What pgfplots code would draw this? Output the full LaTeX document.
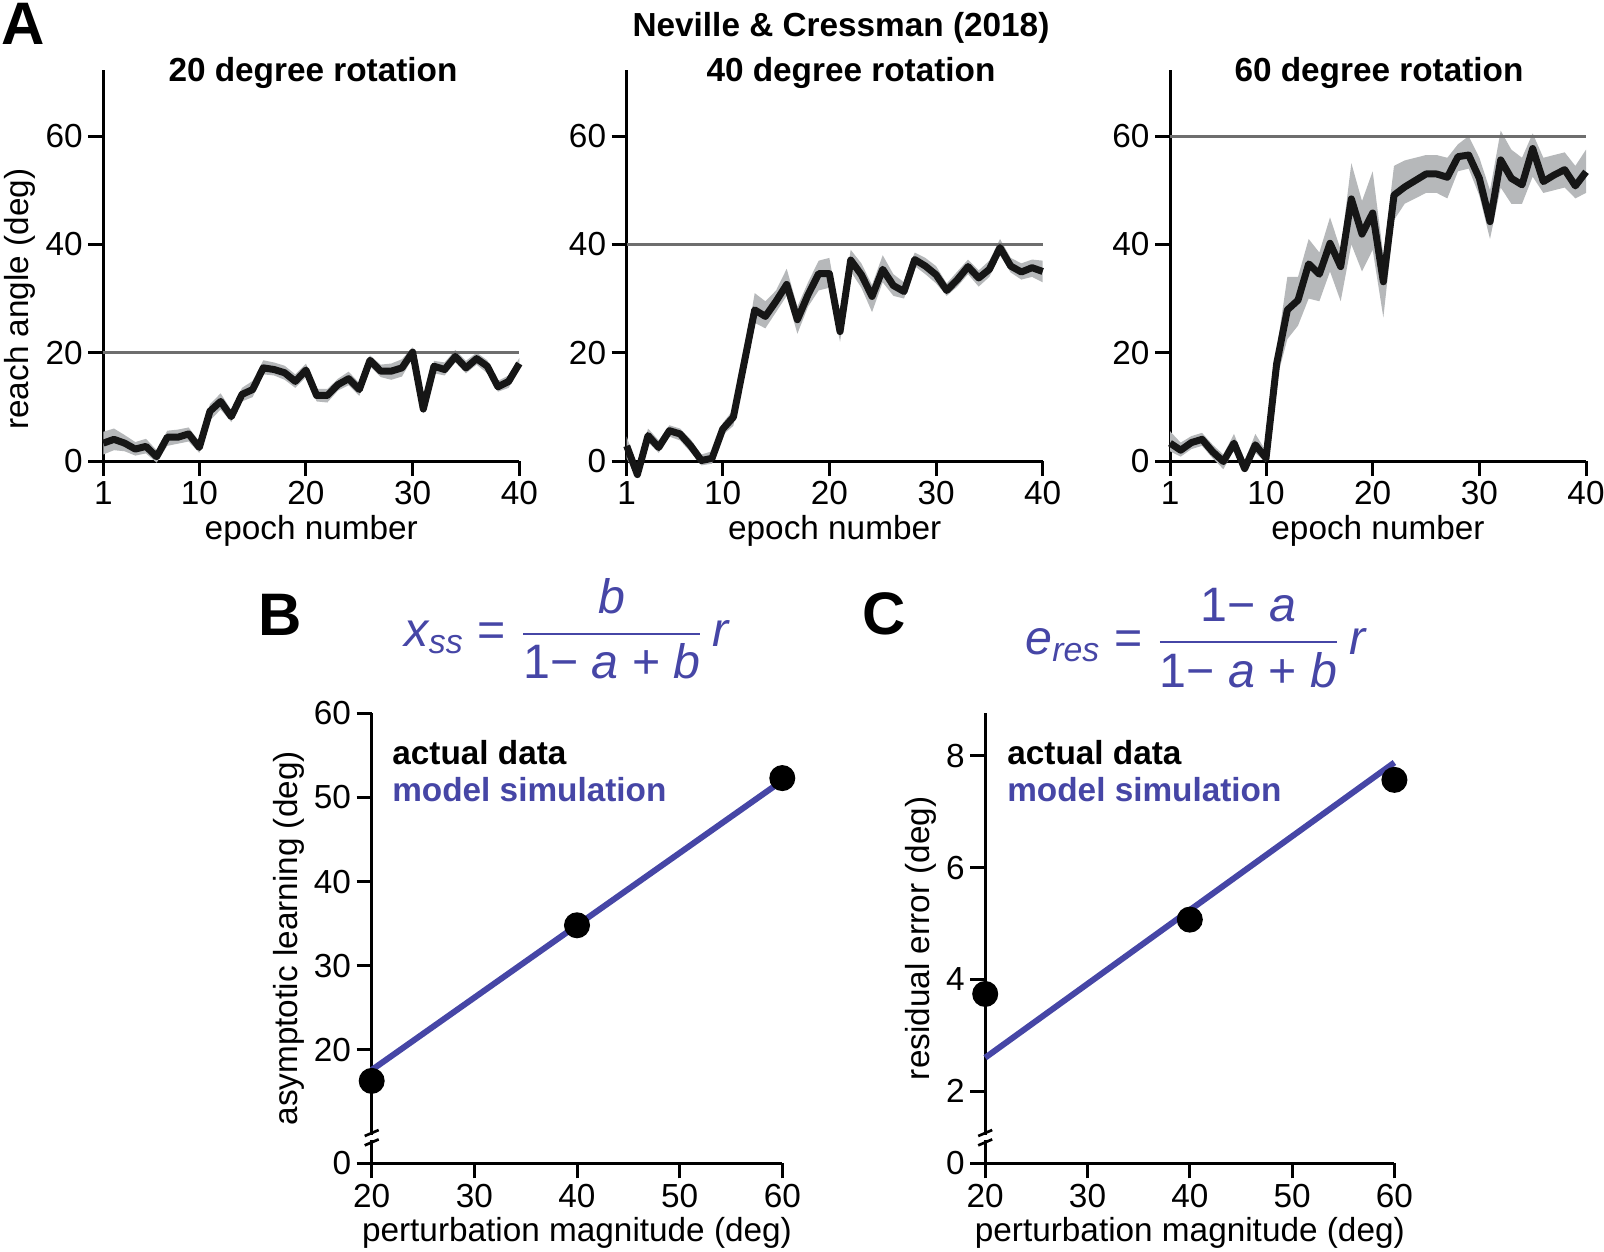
\documentclass[border=0pt]{standalone}
\usepackage{fontspec}
\setmainfont{Liberation Sans}
\usepackage{amsmath}
\usepackage{pgfplots}
\pgfplotsset{compat=1.18}
\usepackage{pgfplotstable}
\usepgfplotslibrary{fillbetween}

\definecolor{simblue}{RGB}{70,70,166}
\definecolor{bandgray}{RGB}{182,184,186}
\definecolor{refgray}{RGB}{110,110,110}
\definecolor{meanblack}{RGB}{22,22,22}

% epoch, mean, lower, upper
\pgfplotstableread{
x m lo hi
1 3.3 1.2 5.4
2 4.0 2.0 6.0
3 3.3 1.8 4.8
4 2.2 1.0 3.5
5 2.7 1.4 4.1
6 0.8 -0.3 2.0
7 4.4 2.8 5.6
8 4.4 3.2 5.8
9 5.0 3.6 6.2
10 2.5 1.5 3.6
11 9.2 7.5 10.5
12 11.0 9.5 12.5
13 8.2 7.2 9.4
14 12.3 11.0 13.5
15 13.2 11.8 14.8
16 17.2 16.0 18.6
17 16.9 15.8 18.2
18 16.3 15.0 17.6
19 14.7 13.5 16.0
20 16.8 15.5 18.0
21 12.1 11.0 13.3
22 12.1 10.8 13.3
23 14.1 13.0 15.2
24 15.2 14.0 16.5
25 13.2 12.0 14.4
26 18.6 17.5 19.5
27 16.6 15.5 17.8
28 16.6 15.0 18.0
29 17.2 15.6 18.8
30 20.1 19.0 21.0
31 9.6 8.8 10.8
32 17.5 16.2 18.5
33 16.9 15.8 18.2
34 19.3 18.2 20.5
35 17.2 16.2 18.5
36 18.9 17.8 20.0
37 17.5 16.2 18.6
38 13.7 12.8 14.8
39 14.7 13.5 15.8
40 18.0 17.0 19.0
}\tA

\pgfplotstableread{
x m lo hi
1 2.8 0.5 4.5
2 -2.5 -3.2 -1.2
3 4.7 3.5 6.0
4 2.5 1.5 3.8
5 5.6 4.5 6.6
6 5.0 3.8 6.0
7 2.8 1.6 4.0
8 0.1 -0.8 1.2
9 0.5 -0.5 1.8
10 5.9 4.8 7.0
11 8.1 6.5 9.5
12 18.0 16.5 19.5
13 27.9 25.5 31.0
14 26.7 24.5 29.5
15 29.5 27.5 31.5
16 32.6 30.5 35.5
17 26.1 23.5 28.5
18 30.7 28.5 33.0
19 34.6 31.5 37.0
20 34.6 32.0 37.5
21 23.9 22.0 26.5
22 37.1 35.0 39.0
23 34.4 32.0 36.5
24 30.4 27.5 32.5
25 35.4 33.0 38.0
26 32.4 30.5 34.5
27 31.3 30.0 33.0
28 37.2 36.0 38.5
29 36.0 34.5 37.5
30 34.4 32.8 36.0
31 31.5 30.5 32.8
32 33.5 32.2 35.0
33 35.9 34.5 37.2
34 33.8 32.2 35.2
35 35.4 34.0 37.0
36 39.4 38.0 41.0
37 36.0 34.8 37.5
38 34.9 33.5 36.5
39 35.7 34.0 37.2
40 35.0 33.0 37.0
}\tB

\pgfplotstableread{
x m lo hi
1 3.3 1.8 5.5
2 2.0 0.8 3.4
3 3.4 2.2 4.6
4 4.0 2.8 5.2
5 1.7 0.5 3.0
6 -0.1 -1.5 1.2
7 3.3 2.0 5.0
8 -1.4 -2.0 0.0
9 3.0 1.5 5.0
10 0.5 -0.2 1.8
11 18.0 15.0 20.5
12 27.9 22.5 34.0
13 29.7 25.0 34.0
14 36.4 30.0 41.0
15 34.5 29.5 38.5
16 40.2 35.0 45.0
17 35.9 29.5 39.0
18 48.4 40.0 55.0
19 41.9 35.0 48.0
20 45.8 39.0 53.5
21 33.1 26.5 38.0
22 49.1 44.5 54.5
23 50.6 47.5 55.5
24 51.8 48.5 56.0
25 53.0 49.5 56.5
26 53.0 49.5 56.5
27 52.4 48.5 56.0
28 56.2 53.5 58.5
29 56.5 54.0 60.0
30 52.2 49.0 56.0
31 44.2 41.0 50.0
32 55.6 50.5 61.0
33 52.2 47.5 57.5
34 51.0 47.5 56.0
35 57.7 52.5 60.5
36 51.6 49.5 56.0
37 52.8 50.0 56.5
38 53.8 50.5 57.0
39 50.8 48.5 54.5
40 53.4 49.5 57.5
}\tC

\pgfplotsset{
  base/.style={
    scale only axis, anchor=south west,
    axis x line=bottom, axis y line=left,
    axis line style={-, line width=0.9pt, black},
    tick align=outside, major tick length=4.5pt,
    tick style={line width=0.9pt, black},
    clip=false,
    /pgf/number format/assume math mode=true,
    ticklabel style={font=\fontsize{10}{12}\selectfont, inner sep=1.5pt},
    label style={font=\fontsize{10}{12}\selectfont, inner sep=1.3pt},
  },
  panA/.style={
    base, width=124.8pt, height=117.3pt,
    xmin=1, xmax=40, ymin=0, ymax=72.2,
    xtick={1,10,20,30,40}, ytick={0,20,40,60},
    xlabel={epoch number},
  },
  meanline/.style={meanblack, line width=2.1pt, line join=round},
}

\begin{document}
\begin{tikzpicture}[font=\fontsize{10}{12}\selectfont]

% ---- A: 20 deg
\begin{axis}[panA, at={(30.99pt,-138.3pt)}, ylabel={reach angle (deg)},
  ylabel style={at={(ticklabel cs:0.414)}}]
  \addplot[draw=none, name path=hi] table[x=x,y=hi]{\tA};
  \addplot[draw=none, name path=lo] table[x=x,y=lo]{\tA};
  \addplot[bandgray] fill between[of=hi and lo];
  \addplot[refgray, line width=0.9pt] coordinates {(1,20) (40,20)};
  \addplot[meanline] table[x=x,y=m]{\tA};
\end{axis}

% ---- A: 40 deg
\begin{axis}[panA, at={(188.01pt,-138.3pt)}]
  \addplot[draw=none, name path=hi] table[x=x,y=hi]{\tB};
  \addplot[draw=none, name path=lo] table[x=x,y=lo]{\tB};
  \addplot[bandgray] fill between[of=hi and lo];
  \addplot[refgray, line width=0.9pt] coordinates {(1,40) (40,40)};
  \addplot[meanline] table[x=x,y=m]{\tB};
\end{axis}

% ---- A: 60 deg
\begin{axis}[panA, at={(351pt,-138.3pt)}]
  \addplot[draw=none, name path=hi] table[x=x,y=hi]{\tC};
  \addplot[draw=none, name path=lo] table[x=x,y=lo]{\tC};
  \addplot[bandgray] fill between[of=hi and lo];
  \addplot[refgray, line width=0.9pt] coordinates {(1,60) (40,60)};
  \addplot[meanline] table[x=x,y=m]{\tC};
\end{axis}

% ---- B
\begin{axis}[base, at={(111.51pt,-348.99pt)}, width=123.18pt, height=135pt,
  xmin=20, xmax=60, ymin=6.5, ymax=60,
  xtick={20,30,40,50,60},
  ytick={6.5,20,30,40,50,60}, yticklabels={0,20,30,40,50,60},
  xlabel={perturbation magnitude (deg)}, ylabel={asymptotic learning (deg)}]
  \addplot[simblue, line width=1.8pt] coordinates {(20,17.6) (60,52.0)};
  \addplot[only marks, mark=*, mark size=3.7pt, black] coordinates {(20,16.3) (40,34.8) (60,52.3)};
\end{axis}

% ---- C
\begin{axis}[base, at={(295.56pt,-348.99pt)}, width=122.76pt, height=135pt,
  xmin=20, xmax=60, ymin=0.71, ymax=8.76,
  xtick={20,30,40,50,60},
  ytick={0.71,2,4,6,8}, yticklabels={0,2,4,6,8},
  xlabel={perturbation magnitude (deg)}, ylabel={residual error (deg)}]
  \addplot[simblue, line width=1.8pt] coordinates {(20,2.6) (60,7.88)};
  \addplot[only marks, mark=*, mark size=3.7pt, black] coordinates {(20,3.74) (40,5.07) (60,7.57)};
\end{axis}

% axis breaks
\foreach \bx in {111.51pt,295.56pt}{
  \fill[white] (\bx-1.5pt,-340.6pt) rectangle (\bx+1.5pt,-342.0pt);
  \draw[line width=0.8pt] (\bx-2.1pt,-340.8pt) -- (\bx+2.1pt,-339.0pt);
  \draw[line width=0.8pt] (\bx-2.1pt,-343.6pt) -- (\bx+2.1pt,-341.8pt);
}

% texts
\node[anchor=base west, inner sep=0, font=\fontsize{18}{20}\selectfont\bfseries] at (0.3pt,-13.4pt) {A};
\node[anchor=base, inner sep=0, font=\fontsize{10}{12}\selectfont\bfseries] at (252.3pt,-10.8pt) {Neville \& Cressman (2018)};
\node[anchor=base, inner sep=0, font=\fontsize{10}{12}\selectfont\bfseries] at (93.9pt,-24.4pt) {20 degree rotation};
\node[anchor=base, inner sep=0, font=\fontsize{10}{12}\selectfont\bfseries] at (255.3pt,-24.4pt) {40 degree rotation};
\node[anchor=base, inner sep=0, font=\fontsize{10}{12}\selectfont\bfseries] at (413.7pt,-24.4pt) {60 degree rotation};

\node[anchor=base west, inner sep=0, font=\fontsize{18}{20}\selectfont\bfseries] at (77.4pt,-190.5pt) {B};
\node[anchor=base west, inner sep=0, font=\fontsize{18}{20}\selectfont\bfseries] at (258.6pt,-190.2pt) {C};

\node[text=simblue, font=\fontsize{14.5}{17}\selectfont] at (170pt,-188.7pt)
  {$\textit{x}_{\textit{ss}}\;\text{=}\;\dfrac{\textit{b}}{\text{1−}\;\textit{a}\;\text{+}\;\textit{b}}\,\textit{r}$};
\node[text=simblue, font=\fontsize{14.5}{17}\selectfont] at (358.6pt,-191.4pt)
  {$\textit{e}_{\textit{res}}\;\text{=}\;\dfrac{\text{1−}\;\textit{a}}{\text{1−}\;\textit{a}\;\text{+}\;\textit{b}}\,\textit{r}$};

\node[anchor=base west, inner sep=0, font=\fontsize{10}{12}\selectfont\bfseries] at (117.5pt,-229.2pt) {actual data};
\node[anchor=base west, inner sep=0, font=\fontsize{10}{12}\selectfont\bfseries, text=simblue] at (117.5pt,-240.5pt) {model simulation};
\node[anchor=base west, inner sep=0, font=\fontsize{10}{12}\selectfont\bfseries] at (302pt,-229.2pt) {actual data};
\node[anchor=base west, inner sep=0, font=\fontsize{10}{12}\selectfont\bfseries, text=simblue] at (302pt,-240.5pt) {model simulation};

\pgfresetboundingbox
\path[use as bounding box] (0pt,0pt) rectangle (481.2pt,-375.3pt);
\end{tikzpicture}
\end{document}
